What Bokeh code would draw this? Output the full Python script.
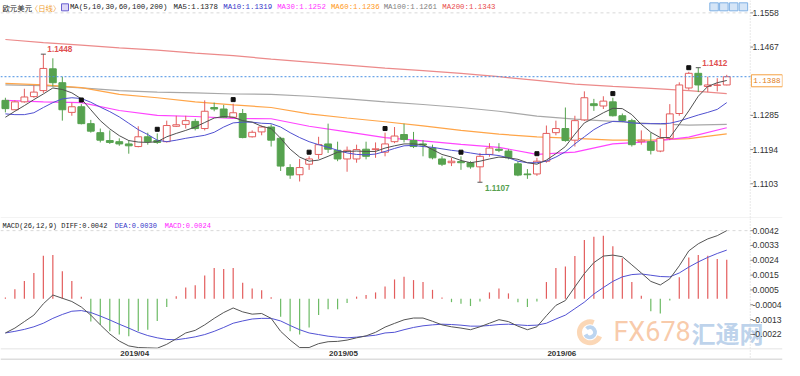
from bokeh.plotting import figure
from bokeh.models import Range1d, FixedTicker, NumeralTickFormatter, Span, ColumnDataSource
from bokeh.layouts import column
from bokeh.transform import dodge
from bokeh.core.properties import value
from bokeh.embed import file_html
from bokeh.resources import INLINE

# ---------------- data (EUR/USD daily) ----------------
date_labels = ["2019/04", "2019/05", "2019/06"]
date_idx = [12, 34, 57]

opens = [1.1325, 1.1300, 1.1321, 1.1335, 1.1351, 1.1409, 1.1372, 1.1293, 1.1308, 1.1263,
         1.1239, 1.1218, 1.1215, 1.1209, 1.1202, 1.1228, 1.1218, 1.1215, 1.1256, 1.1261,
         1.1269, 1.1250, 1.1306, 1.1302, 1.1280, 1.1290, 1.1228, 1.1241, 1.1254, 1.1224,
         1.1146, 1.1127, 1.1155, 1.1181, 1.1209, 1.1192, 1.1169, 1.1169, 1.1195, 1.1194,
         1.1187, 1.1215, 1.1234, 1.1218, 1.1209, 1.1198, 1.1169, 1.1159, 1.1162, 1.1159,
         1.1148, 1.1181, 1.1195, 1.1190, 1.1156, 1.1129, 1.1129, 1.1163, 1.1239, 1.1250,
         1.1219, 1.1273, 1.1316, 1.1310, 1.1321, 1.1284, 1.1271, 1.1215, 1.1215, 1.1190,
         1.1224, 1.1290, 1.1358, 1.1397, 1.1362, 1.1365, 1.1366]
highs = [1.1332, 1.1325, 1.1356, 1.1365, 1.1448, 1.1437, 1.1388, 1.1319, 1.1315, 1.1273,
         1.1250, 1.1245, 1.1224, 1.1219, 1.1256, 1.1239, 1.1237, 1.1271, 1.1284, 1.1284,
         1.1276, 1.1325, 1.1319, 1.1313, 1.1316, 1.1302, 1.1245, 1.1258, 1.1261, 1.1228,
         1.1155, 1.1169, 1.1176, 1.1228, 1.1263, 1.1215, 1.1202, 1.1207, 1.1215, 1.1213,
         1.1239, 1.1254, 1.1263, 1.1241, 1.1219, 1.1207, 1.1176, 1.1172, 1.1176, 1.1163,
         1.1185, 1.1211, 1.1211, 1.1195, 1.1163, 1.1142, 1.1172, 1.1258, 1.1271, 1.1306,
         1.1284, 1.1349, 1.1329, 1.1336, 1.1332, 1.1290, 1.1276, 1.1245, 1.1239, 1.1250,
         1.1315, 1.1373, 1.1401, 1.1412, 1.1388, 1.1384, 1.1393]
lows = [1.1293, 1.1299, 1.1319, 1.1332, 1.1345, 1.1362, 1.1271, 1.1284, 1.1261, 1.1239,
        1.1213, 1.1209, 1.1204, 1.1183, 1.1200, 1.1207, 1.1209, 1.1213, 1.1254, 1.1250,
        1.1245, 1.1245, 1.1296, 1.1278, 1.1278, 1.1224, 1.1226, 1.1232, 1.1202, 1.1137,
        1.1116, 1.1109, 1.1140, 1.1169, 1.1185, 1.1163, 1.1135, 1.1159, 1.1168, 1.1172,
        1.1176, 1.1211, 1.1213, 1.1198, 1.1176, 1.1168, 1.1150, 1.1150, 1.1140, 1.1143,
        1.1107, 1.1175, 1.1187, 1.1168, 1.1123, 1.1116, 1.1124, 1.1159, 1.1232, 1.1215,
        1.1202, 1.1270, 1.1297, 1.1302, 1.1282, 1.1267, 1.1202, 1.1207, 1.1181, 1.1187,
        1.1219, 1.1284, 1.1353, 1.1347, 1.1347, 1.1349, 1.1365]
closes = [1.1303, 1.1321, 1.1334, 1.1347, 1.1410, 1.1372, 1.1300, 1.1308, 1.1263, 1.1243,
          1.1219, 1.1213, 1.1209, 1.1204, 1.1228, 1.1215, 1.1213, 1.1258, 1.1260, 1.1271,
          1.1250, 1.1296, 1.1302, 1.1280, 1.1292, 1.1226, 1.1240, 1.1254, 1.1219, 1.1150,
          1.1126, 1.1146, 1.1169, 1.1207, 1.1195, 1.1169, 1.1192, 1.1194, 1.1176, 1.1196,
          1.1209, 1.1230, 1.1221, 1.1202, 1.1206, 1.1172, 1.1155, 1.1163, 1.1159, 1.1148,
          1.1176, 1.1198, 1.1192, 1.1172, 1.1126, 1.1127, 1.1163, 1.1237, 1.1250, 1.1218,
          1.1271, 1.1332, 1.1311, 1.1323, 1.1284, 1.1271, 1.1207, 1.1219, 1.1192, 1.1224,
          1.1289, 1.1366, 1.1397, 1.1366, 1.1366, 1.1366, 1.1388]

ma5 = [1.1280, 1.1296, 1.1311, 1.1327, 1.1342, 1.1358, 1.1354, 1.1345, 1.1329, 1.1300,
       1.1271, 1.1249, 1.1231, 1.1218, 1.1214, 1.1213, 1.1215, 1.1228, 1.1237, 1.1245,
       1.1254, 1.1266, 1.1278, 1.1282, 1.1280, 1.1271, 1.1267, 1.1256, 1.1250, 1.1224,
       1.1195, 1.1174, 1.1163, 1.1166, 1.1176, 1.1187, 1.1189, 1.1190, 1.1189, 1.1189,
       1.1198, 1.1204, 1.1209, 1.1209, 1.1207, 1.1194, 1.1181, 1.1174, 1.1165, 1.1159,
       1.1163, 1.1169, 1.1174, 1.1172, 1.1168, 1.1159, 1.1155, 1.1166, 1.1183, 1.1202,
       1.1235, 1.1265, 1.1278, 1.1292, 1.1304, 1.1303, 1.1287, 1.1261, 1.1240, 1.1226,
       1.1226, 1.1261, 1.1297, 1.1336, 1.1362, 1.1372, 1.1378]
ma10 = [1.1289, 1.1287, 1.1287, 1.1292, 1.1306, 1.1319, 1.1329, 1.1332, 1.1330, 1.1320,
        1.1307, 1.1295, 1.1281, 1.1264, 1.1247, 1.1234, 1.1219, 1.1215, 1.1219, 1.1224,
        1.1228, 1.1232, 1.1240, 1.1254, 1.1265, 1.1267, 1.1267, 1.1264, 1.1263, 1.1254,
        1.1239, 1.1226, 1.1215, 1.1207, 1.1200, 1.1192, 1.1185, 1.1181, 1.1180, 1.1182,
        1.1189, 1.1197, 1.1204, 1.1205, 1.1202, 1.1200, 1.1196, 1.1192, 1.1189, 1.1185,
        1.1181, 1.1181, 1.1178, 1.1172, 1.1163, 1.1159, 1.1159, 1.1163, 1.1174, 1.1188,
        1.1209, 1.1228, 1.1247, 1.1261, 1.1269, 1.1269, 1.1265, 1.1263, 1.1263, 1.1263,
        1.1264, 1.1270, 1.1278, 1.1286, 1.1293, 1.1301, 1.1319]
slow_idx = [0, 4, 8, 12, 16, 20, 24, 28, 32, 36, 40, 44, 48, 52, 56, 60, 64, 68, 72, 76]
ma30 = [1.1325, 1.1321, 1.1319, 1.1298, 1.1285, 1.1282, 1.1277, 1.1276, 1.1256, 1.1241,
        1.1226, 1.1217, 1.1208, 1.1200, 1.1181, 1.1187, 1.1209, 1.1215, 1.1227, 1.1252]
ma60 = [1.1370, 1.1366, 1.1359, 1.1341, 1.1332, 1.1321, 1.1313, 1.1306, 1.1289, 1.1278,
        1.1268, 1.1257, 1.1245, 1.1235, 1.1228, 1.1224, 1.1219, 1.1219, 1.1223, 1.1236]
ma100 = [1.1366, 1.1364, 1.1358, 1.1351, 1.1347, 1.1345, 1.1342, 1.1341, 1.1336, 1.1329,
         1.1321, 1.1314, 1.1306, 1.1296, 1.1283, 1.1275, 1.1269, 1.1263, 1.1259, 1.1261]
ma200 = [1.1487, 1.1479, 1.1472, 1.1465, 1.1459, 1.1451, 1.1444, 1.1435, 1.1427, 1.1419,
         1.1411, 1.1404, 1.1397, 1.1388, 1.1378, 1.1368, 1.1362, 1.1357, 1.1351, 1.1343]

marker_idx = [8, 16, 24, 32, 40, 48, 56, 64, 72]
hi_note_idx = [4, 73]
lo_note_idx = [50]

macd_hist = [0.00007, 0.00059, 0.00109, 0.00159, 0.00265, 0.00269, 0.00169, 0.00109, 0.00013, -0.00141,
             -0.00161, -0.00201, -0.00221, -0.00231, -0.00201, -0.00191, -0.00137, -0.00051, 0.00015, 0.00069,
             0.00083, 0.00143, 0.00189, 0.00183, 0.00189, 0.00099, 0.00063, 0.00053, 0.00009, -0.00111,
             -0.00201, -0.00221, -0.00177, -0.00101, -0.00065, -0.00065, -0.00027, 0.00013, 0.00023, 0.00039,
             0.00075, 0.00119, 0.00135, 0.00115, 0.00103, 0.00055, 0.00007, -0.00021, -0.00031, -0.00045,
             -0.00017, 0.00039, 0.00063, 0.00033, -0.00021, -0.00051, -0.00017, 0.00103, 0.00189, 0.00199,
             0.00263, 0.00363, 0.00383, 0.00389, 0.00323, 0.00249, 0.00103, 0.00019, -0.00077, -0.00091,
             -0.00011, 0.00133, 0.00255, 0.00269, 0.00265, 0.00245, 0.0024]
diff = [-0.00211, -0.00181, -0.00141, -0.00101, -0.00031, 0.00023, 0.00003, -0.00017, -0.00051, -0.00101,
        -0.00161, -0.00217, -0.00261, -0.00291, -0.00301, -0.00303, -0.00305, -0.00281, -0.00247, -0.00211,
        -0.00195, -0.00161, -0.00121, -0.00085, -0.00057, -0.00081, -0.00095, -0.00091, -0.00121, -0.00201,
        -0.00255, -0.00301, -0.00301, -0.00277, -0.00265, -0.00263, -0.00255, -0.00241, -0.00229, -0.00207,
        -0.00175, -0.00152, -0.00130, -0.00119, -0.00119, -0.00139, -0.00161, -0.00173, -0.00181, -0.00191,
        -0.00173, -0.00151, -0.00129, -0.00141, -0.00169, -0.00191, -0.00173, -0.00105, -0.00041, -0.00011,
        0.00073, 0.00155, 0.00223, 0.00263, 0.00269, 0.00259, 0.00209, 0.00159, 0.00107, 0.00085,
        0.00123, 0.00203, 0.00295, 0.00339, 0.00369, 0.00389, 0.0042]
dea = [-0.00211, -0.00201, -0.00189, -0.00173, -0.00151, -0.00121, -0.00097, -0.00077, -0.00073, -0.00085,
       -0.00107, -0.00131, -0.00157, -0.00181, -0.00207, -0.00227, -0.00241, -0.00251, -0.00253, -0.00245,
       -0.00235, -0.00221, -0.00201, -0.00177, -0.00151, -0.00137, -0.00125, -0.00121, -0.00121, -0.00137,
       -0.00165, -0.00191, -0.00211, -0.00221, -0.00231, -0.00237, -0.00241, -0.00237, -0.00231, -0.00225,
       -0.00211, -0.00207, -0.00191, -0.00177, -0.00167, -0.00161, -0.00157, -0.00159, -0.00163, -0.00169,
       -0.00169, -0.00165, -0.00159, -0.00157, -0.00161, -0.00165, -0.00163, -0.00151, -0.00125, -0.00101,
       -0.00061, -0.00021, 0.00029, 0.00069, 0.00107, 0.00135, 0.00149, 0.00153, 0.00145, 0.00137,
       0.00135, 0.00159, 0.00195, 0.00227, 0.00255, 0.00279, 0.0030]

# ---------------- styling ----------------
RED = "#e35d5d"
GREEN = "#56a24f"
MONO = "Liberation Mono"
SANS = "Liberation Sans"
CJK = "Noto Sans CJK SC"
W = 784


# reference-pixel helpers (layout only)
def mx(px):
    return (px - 5) / 9.71


def my(py):
    return 1.1558 - (py - 12.7) / 3859.0


def dy(py):
    return (306.5 - py) / 16672.0


def txt(fig, x, y, s, color, size, font, style="normal", align="left",
        baseline="middle", xo=0, yo=0, alpha=1.0):
    fig.text(x=[x], y=[y], text=[s], text_color=color, text_font_size=size,
             text_font=value(font), text_font_style=style, text_align=align,
             text_baseline=baseline, x_offset=xo, y_offset=yo, text_alpha=alpha)


def style_axis(ax, ticks):
    # labels are pulled back over the right edge of the plotting area, as in the reference
    ax.ticker = FixedTicker(ticks=ticks)
    ax.formatter = NumeralTickFormatter(format="0.0000")
    ax.axis_line_color = None
    ax.major_tick_line_color = None
    ax.major_tick_out = 0
    ax.major_tick_in = 0
    ax.minor_tick_line_color = None
    ax.major_label_text_font = SANS
    ax.major_label_text_font_size = "8.6px"
    ax.major_label_text_color = "#333333"
    ax.major_label_standoff = -30


def frame_deco(fig, ticks):
    fig.add_layout(Span(location=mx(767), dimension="height", line_color="#d0d0d0",
                        line_dash="1 2", line_width=1))
    fig.scatter(x=[mx(768.5)] * len(ticks), y=ticks, marker="dash", size=3,
                line_color="#888888")


xr = Range1d(mx(0), mx(800))

# ---------------- main candlestick panel ----------------
p = figure(width=W, height=218, x_range=xr, y_range=Range1d(my(224), my(0)),
           output_backend="svg", toolbar_location=None, x_axis_location=None,
           y_axis_location="right", min_border_left=0, min_border_right=0,
           min_border_top=0, min_border_bottom=0)
p.grid.visible = False
p.outline_line_color = None
main_ticks = [1.1558 - i * 0.0091 for i in range(6) if i != 2]
style_axis(p.yaxis[0], main_ticks)
frame_deco(p, main_ticks)

p.segment(x0=[mx(0)], y0=[main_ticks[0]], x1=[mx(766)], y1=[main_ticks[0]],
          line_color="#d8d8d8", line_dash="3 3", line_width=1)
p.add_layout(Span(location=my(223.5), dimension="width", line_color="#e6e6e6", line_width=1))

# moving averages
p.line(slow_idx, ma200, line_color="#ec8a8a", line_width=1.2)
p.line(slow_idx, ma100, line_color="#a8a8a8", line_width=1.2)
p.line(slow_idx, ma60, line_color="#ffa548", line_width=1.2)
p.line(slow_idx, ma30, line_color="#ff44ff", line_width=1.2)

n = len(closes)
idx = list(range(n))
up = [c >= o for o, c in zip(opens, closes)]
src = ColumnDataSource(dict(
    x=idx, h=highs, l=lows,
    top=[max(o, c) for o, c in zip(opens, closes)],
    bottom=[min(o, c) for o, c in zip(opens, closes)],
    line=[RED if u else GREEN for u in up],
    fill=["white" if u else GREEN for u in up],
))
p.segment(x0="x", y0="l", x1="x", y1="h", line_color="line", line_width=1, source=src)
p.vbar(x="x", width=0.72, top="top", bottom="bottom", fill_color="fill",
       line_color="line", line_width=1, source=src)

p.line(idx, ma10, line_color="#5050d0", line_width=1)
p.line(idx, ma5, line_color="#505050", line_width=1)

# last close dashed line and price box
p.segment(x0=[mx(0)], y0=[closes[-1]], x1=[mx(768)], y1=[closes[-1]],
          line_color="#4a90e2", line_dash="2 2", line_width=1)
p.rect(x=[mx(784)], y=[my(82.5)], width=31, height=12, width_units="screen",
       height_units="screen", fill_color="white", line_color="#f5a040", line_width=1)
txt(p, mx(784), my(82.5), f"{closes[-1]:.4f}", "#e07b20", "7.6px", MONO, align="center")

# black square markers
msrc = ColumnDataSource(dict(x=marker_idx, y=[highs[i] for i in marker_idx]))
p.scatter(x="x", y=dodge("y", 0.0011), marker="square", size=4, color="#111111", source=msrc)

# high / low notes
p.scatter(x=hi_note_idx, y=[highs[i] for i in hi_note_idx], marker="dash", size=5,
          line_color="#555555")
p.scatter(x=lo_note_idx, y=[lows[i] for i in lo_note_idx], marker="dash", size=5,
          line_color="#555555")
for i in hi_note_idx:
    txt(p, i, highs[i], f"{highs[i]:.4f}", "#e05050", "8.2px", SANS, "bold", xo=4, yo=-5)
for i in lo_note_idx:
    txt(p, i, lows[i], f"{lows[i]:.4f}", "#55a050", "8.2px", SANS, "bold", xo=5, yo=6)

# legend row
ty = my(7)
txt(p, mx(2), ty, "欧元美元", "#222222", "7.4px", CJK)
txt(p, mx(31), ty, "〈日线〉", "#f0a030", "7.4px", CJK)
p.rect(x=[mx(66)], y=[my(7)], width=7, height=7, width_units="screen", height_units="screen",
       fill_color="#dcd6f7", line_color="#6a5fd0", line_width=1)
legend_items = [
    (71, "MA(5,10,30,60,100,200)", "#222222"),
    (177, f"MA5:{ma5[-1]:.4f}", "#222222"),
    (228, f"MA10:{ma10[-1]:.4f}", "#3535c8"),
    (283, f"MA30:{ma30[-1]:.4f}", "#ff33ff"),
    (338, f"MA60:{ma60[-1]:.4f}", "#ff9922"),
    (392, f"MA100:{ma100[-1]:.4f}", "#808080"),
    (452, f"MA200:{ma200[-1]:.4f}", "#e84c4c"),
]
for px, s, col in legend_items:
    txt(p, mx(px), ty, s, col, "7.4px", MONO)

# little tool icons at top right
p.rect(x=[mx(730), mx(740), mx(750), mx(760)], y=[my(6.5)] * 4, width=8.5, height=8,
       width_units="screen", height_units="screen", fill_color="#d5e5f7",
       line_color="#7fb0e4", line_width=1)

# ---------------- MACD panel ----------------
q = figure(width=W, height=142, x_range=xr, y_range=Range1d(dy(370), dy(224)),
           output_backend="svg", toolbar_location=None, x_axis_location=None,
           y_axis_location="right", min_border_left=0, min_border_right=0,
           min_border_top=0, min_border_bottom=0)
q.grid.visible = False
q.outline_line_color = None
macd_ticks = [0.0042 - i * 0.0064 / 7 for i in range(8)]
style_axis(q.yaxis[0], macd_ticks)
frame_deco(q, macd_ticks)

q.segment(x0=[mx(0)], y0=[macd_ticks[0]], x1=[mx(766)], y1=[macd_ticks[0]],
          line_color="#d8d8d8", line_dash="3 3", line_width=1)
q.add_layout(Span(location=dy(358), dimension="width", line_color="#e4e4e4", line_width=1))
q.add_layout(Span(location=dy(369), dimension="width", line_color="#dddddd", line_width=2))

# watermark
wx, wy = mx(603), dy(341)
q.annular_wedge(x=[wx], y=[wy], inner_radius=8, outer_radius=13, inner_radius_units="screen",
                outer_radius_units="screen", start_angle=1.2, end_angle=5.9,
                fill_color="#f8b77a", line_color=None, fill_alpha=0.55)
q.annular_wedge(x=[wx], y=[wy], inner_radius=3, outer_radius=7, inner_radius_units="screen",
                outer_radius_units="screen", start_angle=3.6, end_angle=8.6,
                fill_color="#8fb9e6", line_color=None, fill_alpha=0.6)
txt(q, mx(627), wy, "FX678", "#f7c29c", "27px", "Roboto", alpha=0.85)
txt(q, mx(707), wy, "汇通网", "#b2cbe8", "24px", CJK, "bold", alpha=0.85)

hsrc = ColumnDataSource(dict(x=idx, y=macd_hist,
                             c=[RED if v >= 0 else "#6dbb65" for v in macd_hist]))
q.segment(x0="x", y0=0, x1="x", y1="y", line_color="c", line_width=1.2, source=hsrc)
q.line(idx, dea, line_color="#5252d4", line_width=1)
q.line(idx, diff, line_color="#555555", line_width=1)

m_y = dy(232)
txt(q, mx(2), m_y, f"MACD(26,12,9) DIFF:{diff[-1]:.4f}", "#222222", "7px", MONO)
txt(q, mx(117), m_y, f"DEA:{dea[-1]:.4f}", "#3535c8", "7px", MONO)
txt(q, mx(168), m_y, f"MACD:{macd_hist[-1]:.4f}", "#ff22ff", "7px", MONO)

# date labels
q.text(x=date_idx, y=[dy(363)] * len(date_idx), text=date_labels, text_align="left",
       text_baseline="middle", text_font=value(SANS), text_font_style="bold",
       text_font_size="8px", text_color="#333333", x_offset=1)

layout = column(p, q, spacing=0)
open("out.html", "w").write(file_html(layout, INLINE))
